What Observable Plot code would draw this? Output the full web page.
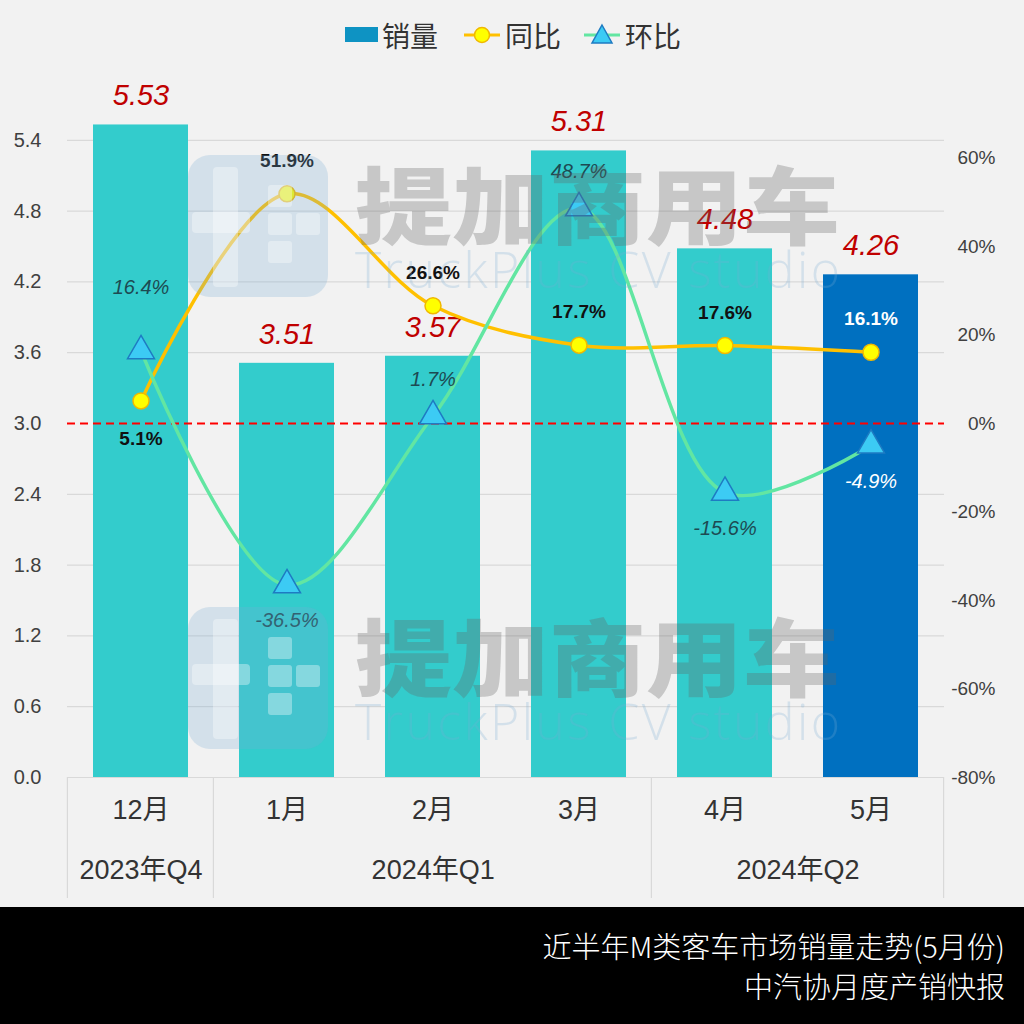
<!DOCTYPE html>
<html>
<head>
<meta charset="utf-8">
<script src="https://cdn.jsdelivr.net/npm/d3@7"></script>
<script src="https://cdn.jsdelivr.net/npm/@observablehq/plot@0.6"></script>
<style>
  html, body { margin: 0; padding: 0; background: #f2f2f2; }
  #wrap { position: relative; width: 1024px; height: 1024px; overflow: hidden; background: #f2f2f2; }
  #legend { display: block; }
  #chart svg { display: block; }
  #footer { position: absolute; left: 0; top: 907px; width: 1024px; height: 117px; background: #000;
            color: #fff; text-align: right; box-sizing: border-box; padding: 18px 19px 0 0;
            font-family: "Noto Sans CJK SC", "Liberation Sans", sans-serif; font-size: 29px; line-height: 40px; font-weight: 300; }
  #wm { position: absolute; left: 0; top: 0; pointer-events: none; }
</style>
</head>
<body>
<div id="wrap">
  <svg id="legend" width="1024" height="60" font-family="'Noto Sans CJK SC', sans-serif" font-size="28" fill="#333">
    <rect x="345" y="27" width="33" height="15" fill="#0e93c3"></rect>
    <text x="382" y="35" dominant-baseline="central">销量</text>
    <line x1="464" x2="500" y1="35" y2="35" stroke="#ffc000" stroke-width="3"></line>
    <circle cx="482" cy="35" r="7.5" fill="#ffff00" stroke="#f0b800" stroke-width="1.5"></circle>
    <text x="505" y="35" dominant-baseline="central">同比</text>
    <line x1="584" x2="620" y1="35" y2="35" stroke="#62e6a2" stroke-width="3"></line>
    <path d="M602,25 L612,43 L592,43 Z" fill="#3ccbf4" stroke="#1e7bc2" stroke-width="1.5"></path>
    <text x="625" y="35" dominant-baseline="central">环比</text>
  </svg>
  <div id="chart"></div>
  <svg id="wm" width="1024" height="907"></svg>
  <div id="footer">近半年M类客车市场销量走势(5月份)<br>中汽协月度产销快报</div>
</div>
<script>
// ---- data ----
const months = ["12月", "1月", "2月", "3月", "4月", "5月"];
const quarterOfMonth = ["2023年Q4", "2024年Q1", "2024年Q1", "2024年Q1", "2024年Q2", "2024年Q2"];
const sales = [5.53, 3.51, 3.57, 5.31, 4.48, 4.26];      // 销量 (万辆)
const yoy = [5.1, 51.9, 26.6, 17.7, 17.6, 16.1];          // 同比 %
const mom = [16.4, -36.5, 1.7, 48.7, -15.6, -4.9];        // 环比 %
const leftTicks = [0, 0.6, 1.2, 1.8, 2.4, 3.0, 3.6, 4.2, 4.8, 5.4];
const rightTicks = [-80, -60, -40, -20, 0, 20, 40, 60];

// ---- styles (not data) ----
const yoyLabelPlace = ["below", "above", "above", "above", "above", "above"];
const momLabelPlace = ["high", "below", "above", "above", "below", "below"];

// percent scale [-80,80] mapped onto sales scale [0,6]
const pctToY = p => 3 + p * 3 / 80;
const yToPct = y => Math.round((y - 3) * 80 / 3);

const rows = months.map((m, i) => ({
  month: m, quarter: quarterOfMonth[i], sales: sales[i], yoy: yoy[i], mom: mom[i], i,
  barFill: i === months.length - 1 ? "#0070c0" : "#33cccc",
  yoyText: i === months.length - 1 ? "#ffffff" : "#111111",
  momText: i === months.length - 1 ? "#ffffff" : "#1d4a52"
}));

const W = 1024, H = 847, mL = 67, mR = 80, mT = 9, mB = 130;
const step = (W - mL - mR) / months.length;

// quarter groups
const groups = [];
rows.forEach(r => {
  const g = groups[groups.length - 1];
  if (g && g.quarter === r.quarter) g.months.push(r.month);
  else groups.push({quarter: r.quarter, months: [r.month]});
});

const narrow = "'Liberation Sans Narrow', 'Liberation Sans', 'Noto Sans CJK SC', sans-serif";
const sans = "'Liberation Sans', Arial, 'Noto Sans CJK SC', sans-serif";

const quarterMarks = groups.map(g => Plot.text([g], {
  x: d => d.months[0],
  frameAnchor: "bottom",
  dy: 101,
  dx: (g.months.length - 1) * step / 2,
  text: "quarter",
  fontSize: 27,
  fill: "#333",
  fontFamily: narrow
}));

const separators = (index, scales, values, dims) => {
  const g = d3.create("svg:g");
  const xs = scales.x;
  const bw = xs.bandwidth ? xs.bandwidth() : 0;
  const bounds = [];
  groups.forEach((gr, k) => {
    const first = xs(gr.months[0]) + bw / 2 - step / 2;
    bounds.push(first);
    if (k === groups.length - 1) bounds.push(xs(gr.months[gr.months.length - 1]) + bw / 2 + step / 2);
  });
  const y0 = dims.height - dims.marginBottom;
  bounds.forEach(bx => {
    g.append("line").attr("x1", bx).attr("x2", bx).attr("y1", y0).attr("y2", y0 + 121)
      .attr("stroke", "#d9d9d9").attr("stroke-width", 1.2);
  });
  return g.node();
};

const plot = Plot.plot({
  width: W, height: H,
  marginLeft: mL, marginRight: mR, marginTop: mT, marginBottom: mB,
  style: {background: "transparent", fontFamily: sans, overflow: "visible"},
  x: {type: "band", domain: months, paddingInner: 0.35, paddingOuter: 0.175, axis: null},
  y: {domain: [0, 6], axis: null},
  marks: [
    Plot.ruleY(leftTicks.filter(t => t !== 3 && t !== 0), {stroke: "#d9d9d9", strokeWidth: 1.2}),
    Plot.ruleY([0], {stroke: "#d9d9d9", strokeWidth: 1.2}),
    Plot.barY(rows, {x: "month", y: "sales", fill: "barFill"}),
    Plot.ruleY([pctToY(0)], {stroke: "#ff0000", strokeWidth: 2, strokeDasharray: "8,5"}),
    // left axis
    Plot.axisY({ticks: leftTicks, tickFormat: d => d.toFixed(1), tickSize: 0, tickPadding: 26, label: null,
                fontSize: 20, fill: "#404040", fontFamily: sans}),
    // right axis (percent)
    Plot.axisY({anchor: "right", ticks: rightTicks.map(pctToY), tickFormat: d => yToPct(d) + "%", label: null,
                tickSize: 0, tickPadding: 0, textAnchor: "end", dx: 51,
                fontSize: 19, fill: "#404040", fontFamily: narrow}),
    // month labels
    Plot.text(rows, {x: "month", frameAnchor: "bottom", dy: 41, text: "month", fontSize: 27, fill: "#333", fontFamily: narrow}),
    ...quarterMarks,
    separators,
    // bar value labels
    Plot.text(rows, {x: "month", y: "sales", dy: -29, text: d => d.sales.toFixed(2), fontSize: 29,
                     fontStyle: "italic", fill: "#c00000", fontFamily: sans}),
    // lines
    Plot.line(rows, {x: "month", y: d => pctToY(d.yoy), curve: "catmull-rom", stroke: "#ffc000", strokeWidth: 3.5}),
    Plot.line(rows, {x: "month", y: d => pctToY(d.mom), curve: "catmull-rom", stroke: "#62e6a2", strokeWidth: 3.5}),
    Plot.dot(rows, {x: "month", y: d => pctToY(d.yoy), r: 8, fill: "#ffff00", stroke: "#f0b800", strokeWidth: 1.5}),
    Plot.dot(rows, {x: "month", y: d => pctToY(d.mom), symbol: "triangle", r: 10, fill: "#3ccbf4", stroke: "#1e7bc2", strokeWidth: 1.5}),
    // yoy labels
    Plot.text(rows.filter(d => yoyLabelPlace[d.i] === "above"), {x: "month", y: d => pctToY(d.yoy), dy: -33,
      text: d => d.yoy.toFixed(1) + "%", fontSize: 19, fontWeight: "bold", fill: "yoyText", fontFamily: narrow}),
    Plot.text(rows.filter(d => yoyLabelPlace[d.i] === "below"), {x: "month", y: d => pctToY(d.yoy), dy: 38,
      text: d => d.yoy.toFixed(1) + "%", fontSize: 19, fontWeight: "bold", fill: "yoyText", fontFamily: narrow}),
    // mom labels
    Plot.text(rows.filter(d => momLabelPlace[d.i] === "above"), {x: "month", y: d => pctToY(d.mom), dy: -36,
      text: d => d.mom.toFixed(1) + "%", fontSize: 20, fontStyle: "italic", fill: "momText", fontFamily: narrow}),
    Plot.text(rows.filter(d => momLabelPlace[d.i] === "high"), {x: "month", y: d => pctToY(d.mom), dy: -63,
      text: d => d.mom.toFixed(1) + "%", fontSize: 20, fontStyle: "italic", fill: "momText", fontFamily: narrow}),
    Plot.text(rows.filter(d => momLabelPlace[d.i] === "below"), {x: "month", y: d => pctToY(d.mom), dy: 36,
      text: d => d.mom.toFixed(1) + "%", fontSize: 20, fontStyle: "italic", fill: "momText", fontFamily: narrow})
  ]
});
document.getElementById("chart").appendChild(plot);

// ---- watermark (decoration) ----
const wm = d3.select("#wm");
[0, 452].forEach(off => {
  const g = wm.append("g").attr("transform", `translate(0,${off})`);
  g.append("rect").attr("x", 188).attr("y", 155).attr("width", 140).attr("height", 142).attr("rx", 22)
    .attr("fill", "rgba(120,170,210,0.25)");
  const w = "rgba(255,255,255,0.35)";
  g.append("rect").attr("x", 213).attr("y", 167).attr("width", 25).attr("height", 120).attr("rx", 4).attr("fill", w);
  g.append("rect").attr("x", 192).attr("y", 212).attr("width", 58).attr("height", 21).attr("rx", 4).attr("fill", w);
  g.append("rect").attr("x", 268).attr("y", 185).attr("width", 24).attr("height", 22).attr("rx", 3).attr("fill", w);
  g.append("rect").attr("x", 268).attr("y", 213).attr("width", 24).attr("height", 22).attr("rx", 3).attr("fill", w);
  g.append("rect").attr("x", 296).attr("y", 213).attr("width", 24).attr("height", 22).attr("rx", 3).attr("fill", w);
  g.append("rect").attr("x", 268).attr("y", 241).attr("width", 24).attr("height", 22).attr("rx", 3).attr("fill", w);
  g.append("text").attr("x", 355).attr("y", 238).attr("textLength", 485).attr("lengthAdjust", "spacingAndGlyphs")
    .attr("font-family", "'Noto Sans CJK SC', sans-serif").attr("font-weight", 900).attr("font-size", 84)
    .attr("fill", "rgba(100,100,100,0.3)").text("提加商用车");
  g.append("text").attr("x", 355).attr("y", 288).attr("textLength", 485).attr("lengthAdjust", "spacing")
    .attr("font-family", "'Open Sans', 'Liberation Sans', sans-serif").attr("font-weight", 300).attr("font-size", 50)
    .attr("fill", "rgba(120,170,210,0.25)").text("TruckPlus CV studio");
});
</script>
</body>
</html>
